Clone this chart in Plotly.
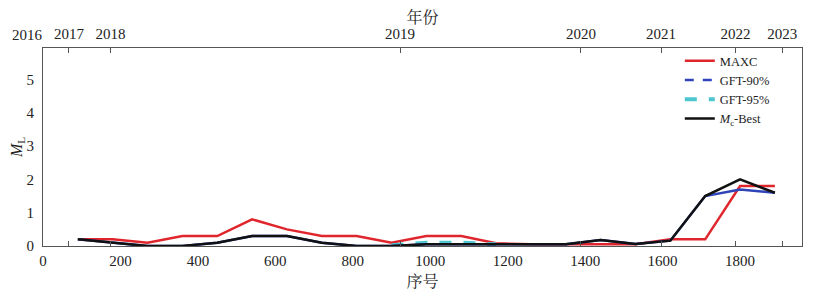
import plotly.graph_objects as go

# sequence numbers (window centres)
seq = [90, 180, 270, 360, 450, 540, 630, 720, 810, 900, 990, 1080, 1170,
       1260, 1350, 1440, 1530, 1620, 1710, 1800, 1890]

maxc = [0.2, 0.2, 0.1, 0.3, 0.3, 0.8, 0.5, 0.3, 0.3, 0.1, 0.3, 0.3, 0.08,
        0.05, 0.05, 0.05, 0.05, 0.2, 0.2, 1.8, 1.8]
gft90 = [0.2, 0.1, 0.0, 0.0, 0.1, 0.3, 0.3, 0.1, 0.0, 0.0, 0.05, 0.05, 0.05,
         0.05, 0.05, 0.18, 0.06, 0.16, 1.5, 1.7, 1.6]
gft95 = [None, None, None, None, None, None, None, None, None, 0.02, 0.1, 0.1,
         0.05, None, None, None, None, None, None, None, None]
mc_best = [0.2, 0.1, 0.0, 0.0, 0.1, 0.3, 0.3, 0.1, 0.0, 0.0, 0.05, 0.05, 0.05,
           0.05, 0.05, 0.18, 0.06, 0.16, 1.5, 2.0, 1.6]

# top axis: year boundaries (sequence numbers)
year_pos = [67, 174, 922, 1389, 1596, 1788, 1909]
year_txt = ["2017", "2018", "2019", "2020", "2021", "2022", "2023"]
first_year_pos = -39
first_year_txt = "2016"

xtick_vals = [0, 200, 400, 600, 800, 1000, 1200, 1400, 1600, 1800]
ytick_vals = [0, 1, 2, 3, 4, 5]

SERIF = "Liberation Serif, Noto Serif CJK SC, Noto Sans CJK SC, serif"
AX = "#555555"
XR = [0, 1960]
RED, BLUE, CYAN, BLACK = "#e0262d", "#2f44b8", "#4ec6cf", "#111111"

fig = go.Figure()
fig.add_trace(go.Scatter(x=seq, y=maxc, mode="lines", name="MAXC",
                         line=dict(color=RED, width=2.5), legendrank=1))
fig.add_trace(go.Scatter(x=seq, y=gft95, mode="lines", name="GFT-95%",
                         line=dict(color=CYAN, width=4, dash="dash"),
                         showlegend=False))
fig.add_trace(go.Scatter(x=seq, y=gft90, mode="lines", name="GFT-90%",
                         line=dict(color=BLUE, width=2.5),
                         showlegend=False))
fig.add_trace(go.Scatter(x=seq, y=mc_best, mode="lines",
                         name="<i>M</i><sub>c</sub>-Best",
                         line=dict(color=BLACK, width=2.5), legendrank=4))
# legend entries for the GFT series (dashed styles as in the key)
fig.add_trace(go.Scatter(x=[None], y=[None], mode="lines", name="GFT-90%",
                         line=dict(color=BLUE, width=2.5, dash="dash"),
                         legendrank=2))
fig.add_trace(go.Scatter(x=[None], y=[None], mode="lines", name="GFT-95%",
                         line=dict(color=CYAN, width=4, dash="dash"),
                         legendrank=3))
# invisible trace to activate top axis
fig.add_trace(go.Scatter(x=[XR[0]], y=[0], xaxis="x2", mode="markers",
                         marker=dict(opacity=0), showlegend=False,
                         hoverinfo="skip"))

fig.update_layout(
    width=809, height=290,
    margin=dict(l=35, r=15, t=40, b=52, autoexpand=False),
    paper_bgcolor="white", plot_bgcolor="white",
    font=dict(family=SERIF, size=15, color="#222"),
    showlegend=True,
    legend=dict(x=0.839, y=1.01, xanchor="left", yanchor="top",
                bgcolor="rgba(0,0,0,0)", font=dict(size=12.5, family=SERIF),
                traceorder="normal", tracegroupgap=0),
    xaxis=dict(range=XR, tickvals=xtick_vals, showgrid=False, zeroline=False,
               showline=True, linecolor=AX, linewidth=1.2, ticks="",
               automargin=False, ticklabelstandoff=1,
               title=dict(text="序号", standoff=7, font=dict(size=16))),
    xaxis2=dict(range=XR, overlaying="x", side="top", tickvals=year_pos,
                ticktext=year_txt, showgrid=False, zeroline=False,
                showline=True, linecolor=AX, linewidth=1.2,
                ticks="inside", ticklen=5, tickcolor=AX, mirror="ticks",
                automargin=False, ticklabelstandoff=2,
                title=dict(text="年份", standoff=2, font=dict(size=16))),
    yaxis=dict(range=[0, 5.95], tickvals=ytick_vals, showgrid=False,
               zeroline=False, showline=True, linecolor=AX, linewidth=1.2,
               mirror=True, ticks="", automargin=False, ticklabelstandoff=5,
               title=dict(text="<i>M</i><sub>L</sub>", standoff=4,
                          font=dict(size=16))),
)

fig.add_annotation(x=(first_year_pos - XR[0]) / (XR[1] - XR[0]), y=1,
                   xref="paper", yref="paper", xanchor="center",
                   yanchor="bottom", yshift=3,
                   text=first_year_txt, showarrow=False,
                   font=dict(size=15, family=SERIF))

fig.write_html("out.html")
